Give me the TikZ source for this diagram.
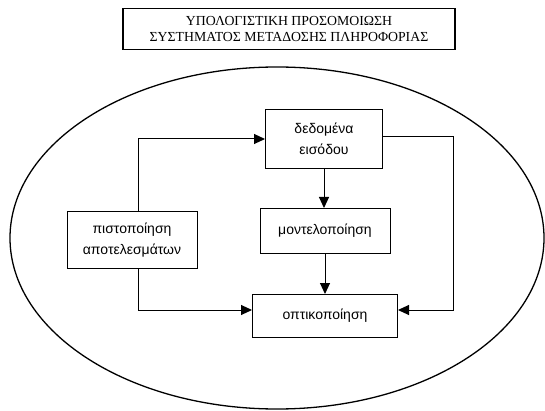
\documentclass[tikz,border=0pt]{standalone}
\usepackage{fontspec}
\setmainfont{Liberation Sans}
\newfontfamily\titlefont{Liberation Serif}
\usetikzlibrary{arrows.meta,shapes.geometric}
\begin{document}
\begin{tikzpicture}[x=1pt,y=-1pt,
  box/.style={draw,line width=1pt,align=center,inner sep=0pt,font=\fontsize{14}{21}\selectfont},
  arr/.style={line width=1pt,-{Triangle[length=11pt,width=10pt]}}]
\useasboundingbox (0,0) rectangle (545,411);
\node[draw,line width=1.3pt,minimum width=332pt,minimum height=41pt,align=center,
  font=\titlefont\fontsize{13.8}{16}\selectfont] (title) at (289,29)
  {ΥΠΟΛΟΓΙΣΤΙΚΗ ΠΡΟΣΟΜΟΙΩΣΗ\\ΣΥΣΤΗΜΑΤΟΣ ΜΕΤΑΔΟΣΗΣ ΠΛΗΡΟΦΟΡΙΑΣ};
\node[draw,ellipse,line width=1.3pt,minimum width=534pt,minimum height=342pt,inner sep=0pt] (ell) at (277,238) {};
\node[box,minimum width=117pt,minimum height=59pt] (dedo) at (324,139) {δεδομένα\\εισόδου};
\node[box,minimum width=130pt,minimum height=45pt] (model) at (325,231) {μοντελοποίηση};
\node[box,minimum width=145pt,minimum height=43pt] (optik) at (325,316) {οπτικοποίηση};
\node[box,minimum width=130pt,minimum height=56pt] (pisto) at (132,240) {πιστοποίηση\\αποτελεσμάτων};
\coordinate (rt) at (453,0);
\draw[arr] ([xshift=6pt]pisto.north) |- (dedo.west);
\draw[arr] ([xshift=6pt]pisto.south) |- ([yshift=6pt]optik.west);
\draw[arr] ([yshift=2pt]dedo.east) -- ([yshift=2pt]dedo.east -| rt) |- ([yshift=6pt]optik.east);
\draw[arr] (dedo.south) -- (dedo.south |- model.north);
\draw[arr] (model.south) -- (model.south |- optik.north);
\end{tikzpicture}
\end{document}
